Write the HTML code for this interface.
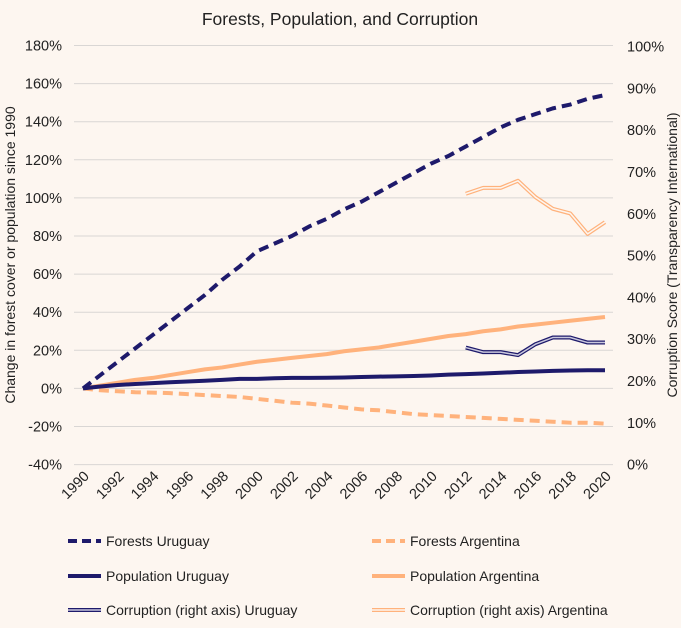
<!DOCTYPE html>
<html><head><meta charset="utf-8"><style>
body{margin:0;background:#fdf6f0;font-family:"Liberation Sans",sans-serif;}
svg{display:block}
text{fill:#222;font-family:"Liberation Sans",sans-serif}
</style></head><body>
<svg id="c" width="681" height="628"></svg>
<script>
const years=[1990,1991,1992,1993,1994,1995,1996,1997,1998,1999,2000,2001,2002,2003,2004,2005,2006,2007,2008,2009,2010,2011,2012,2013,2014,2015,2016,2017,2018,2019,2020];
const forestsUruguay=[0,7,14,21,28,35,42,49,57,64,72,76,80,85,89,94,98,103,108,113,118,122,127,132,137,141,144,147,149,152,154];
const forestsArgentina=[0,-1,-1.5,-2,-2.2,-2.5,-3,-3.5,-4,-4.5,-5.5,-6.5,-7.5,-8,-9,-10,-11,-11.5,-12.5,-13.5,-14,-14.5,-15,-15.5,-16,-16.5,-17,-17.5,-18,-18,-18.5];
const popUruguay=[0,1,1.8,2.3,2.8,3.2,3.6,4,4.5,5,5,5.3,5.5,5.5,5.6,5.7,6,6.2,6.3,6.5,6.8,7.2,7.5,7.8,8.2,8.6,8.9,9.2,9.4,9.5,9.5];
const popArgentina=[0,1.5,3,4.5,5.5,7,8.5,10,11,12.5,14,15,16,17,18,19.5,20.5,21.5,23,24.5,26,27.5,28.5,30,31,32.5,33.5,34.5,35.5,36.5,37.5];
const corrYears=[2012,2013,2014,2015,2016,2017,2018,2019,2020];
const corrUruguay=[28,26.9,26.9,26.2,28.8,30.4,30.4,29.2,29.2];
const corrArgentina=[64.8,66.2,66.2,67.9,64,61.2,60.1,55.2,58];
const leftTicks=[-40,-20,0,20,40,60,80,100,120,140,160,180];
const rightTicks=[0,10,20,30,40,50,60,70,80,90,100];
const xTicks=[1990,1992,1994,1996,1998,2000,2002,2004,2006,2008,2010,2012,2014,2016,2018,2020];

const NS="http://www.w3.org/2000/svg",svg=document.getElementById('c');
const X=y=>83+(y-1990)*(605-83)/30;
const YL=v=>388.4-v*38.1/20;
const YR=v=>464.6-v*4.18;
function el(t,a,p){const e=document.createElementNS(NS,t);for(const k in a)e.setAttribute(k,a[k]);(p||svg).appendChild(e);return e;}
const NAVY="#1e1a6b",ORG="#ffb27c";
let t=el('text',{x:340,y:25,'text-anchor':'middle','font-size':17.5});t.textContent='Forests, Population, and Corruption';

leftTicks.forEach(v=>{
 const g=el('line',{x1:74,x2:613,y1:YL(v),y2:YL(v),stroke:'#d9d6d4','stroke-width':1});
 
 const l=el('text',{x:62,y:YL(v)+5,'text-anchor':'end','font-size':14.5});l.textContent=v+'%';
 
});
rightTicks.forEach(v=>{
 const l=el('text',{x:627,y:YR(v)+5,'font-size':14.5});l.textContent=v+'%';
 
});
xTicks.forEach(y=>{
 const l=el('text',{x:X(y)+7,y:477,'text-anchor':'end','font-size':14.5,transform:`rotate(-45 ${X(y)+7} 477)`});l.textContent=y;
 
});
let yt=el('text',{x:0,y:0,'text-anchor':'middle','font-size':14,transform:'translate(15 255) rotate(-90)'});yt.textContent='Change in forest cover or population since 1990';

let yr=el('text',{x:0,y:0,'text-anchor':'middle','font-size':14,transform:'translate(677 255) rotate(-90)'});yr.textContent='Corruption Score (Transparency International)';

function pts(xs,vs,f){return xs.map((y,i)=>X(y)+','+f(vs[i])).join(' ');}
function line(name,xs,vs,f,st){const p=el('polyline',Object.assign({points:pts(xs,vs,f),fill:'none','stroke-linejoin':'round'},st));
 return p;}
line('forests-argentina-line',years,forestsArgentina,YL,{stroke:ORG,'stroke-width':4,'stroke-dasharray':'10 6'});
line('population-argentina-line',years,popArgentina,YL,{stroke:ORG,'stroke-width':4});
line('population-uruguay-line',years,popUruguay,YL,{stroke:NAVY,'stroke-width':4});
line('forests-uruguay-line',years,forestsUruguay,YL,{stroke:NAVY,'stroke-width':4,'stroke-dasharray':'10 6'});
line('corruption-uruguay-outer',corrYears,corrUruguay,YR,{stroke:NAVY,'stroke-width':4});
line('corruption-uruguay-inner',corrYears,corrUruguay,YR,{stroke:'#c9c7dd','stroke-width':1.5});
line('corruption-argentina-outer',corrYears,corrArgentina,YR,{stroke:ORG,'stroke-width':4});
line('corruption-argentina-inner',corrYears,corrArgentina,YR,{stroke:'#fdf6f0','stroke-width':1.5});
const leg=[['Forests Uruguay',NAVY,'dash',68,541],['Forests Argentina',ORG,'dash',372,541],
['Population Uruguay',NAVY,'solid',68,576],['Population Argentina',ORG,'solid',372,576],
['Corruption (right axis) Uruguay',NAVY,'double',68,610],['Corruption (right axis) Argentina',ORG,'double',372,610]];
leg.forEach(([lab,c,s,x,y])=>{
 const g=el('g',{});
 el('line',{x1:x,x2:x+33,y1:y,y2:y,stroke:c,'stroke-width':4,'stroke-dasharray':s=='dash'?'9 5':'none'},g);
 if(s=='double')el('line',{x1:x,x2:x+33,y1:y,y2:y,stroke:c==NAVY?'#c9c7dd':'#fdf6f0','stroke-width':1.5},g);
 const tt=el('text',{x:x+38,y:y+5,'font-size':14},g);tt.textContent=lab;
});
</script>
</body></html>
